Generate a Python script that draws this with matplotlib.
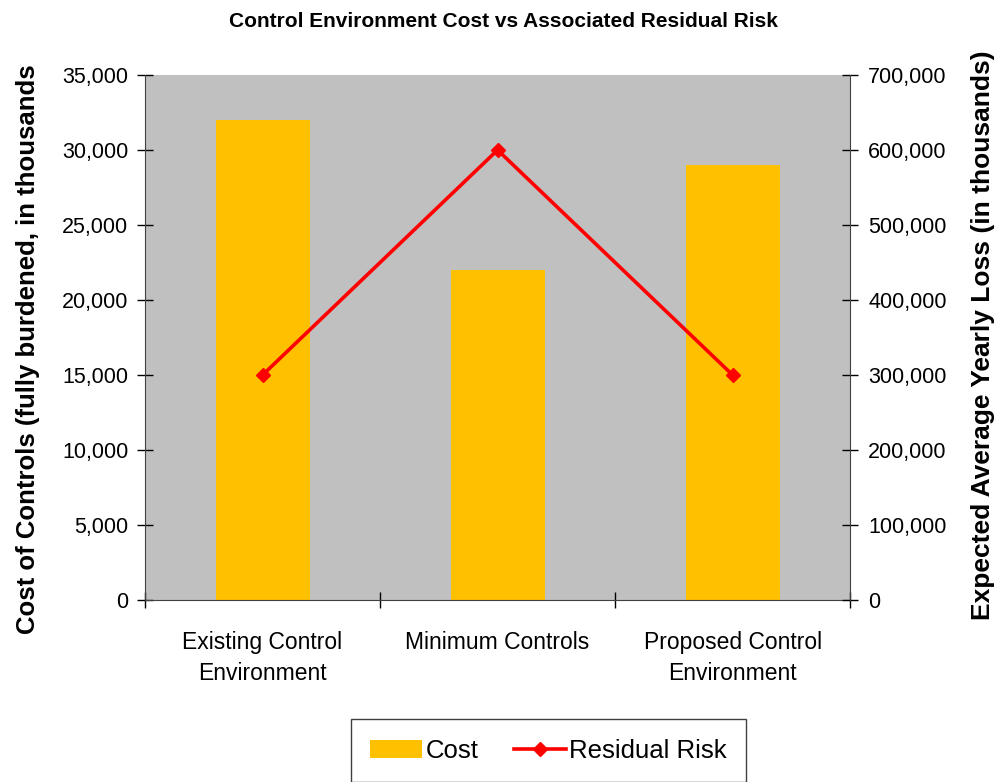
import matplotlib
matplotlib.use("Agg")
import matplotlib.pyplot as plt
from matplotlib.ticker import FuncFormatter, MultipleLocator
import numpy as np

plt.rcParams["font.family"] = ["Liberation Sans", "DejaVu Sans"]

categories = ["Existing Control\nEnvironment", "Minimum Controls", "Proposed Control\nEnvironment"]
cost = [32000, 22000, 29000]
residual_risk = [300000, 600000, 300000]

fig = plt.figure(figsize=(10.03, 7.82), dpi=100)
ax = fig.add_axes([0.1446, 0.2327, 0.703, 0.6714])
ax.set_facecolor("#C0C0C0")

x = np.arange(len(categories))
bars = ax.bar(x, cost, width=0.4, color="#FFC000", label="Cost", zorder=2)

ax.set_xlim(-0.5, 2.5)
ax.set_ylim(0, 35000)
ax.yaxis.set_major_locator(MultipleLocator(5000))
fmt = FuncFormatter(lambda v, p: f"{int(v):,}")
ax.yaxis.set_major_formatter(fmt)

# category labels centred, ticks at the boundaries
ax.set_xticks(x)
ax.set_xticklabels(categories, fontsize=16.5, linespacing=1.45)
ax.tick_params(axis="x", which="major", length=0, pad=22)
ax.set_xticks([-0.5, 0.5, 1.5, 2.5], minor=True)
ax.tick_params(axis="x", which="minor", direction="inout", length=12, width=1)
ax.tick_params(axis="y", direction="inout", length=12, width=1, labelsize=15.5, pad=6)

for s in ["top", "right"]:
    ax.spines[s].set_visible(False)
for s in ["left", "bottom"]:
    ax.spines[s].set_color("#404040")

ax2 = ax.twinx()
ax2.set_ylim(0, 700000)
ax2.yaxis.set_major_locator(MultipleLocator(100000))
ax2.yaxis.set_major_formatter(fmt)
ax2.tick_params(axis="y", direction="inout", length=12, width=1, labelsize=15.5, pad=7)
line, = ax2.plot(x, residual_risk, color="#FF0000", lw=2.6, marker="D", ms=7,
                 label="Residual Risk")
for s in ["top", "left", "bottom"]:
    ax2.spines[s].set_visible(False)
ax2.spines["right"].set_color("#404040")

fig.text(0.028, 0.554, "Cost of Controls (fully burdened, in thousands",
         rotation=90, ha="center", va="center", fontsize=18.5, fontweight="bold")
fig.text(0.980, 0.572, "Expected Average Yearly Loss (in thousands)",
         rotation=90, ha="center", va="center", fontsize=19, fontweight="bold")
fig.text(0.502, 0.973, "Control Environment Cost vs Associated Residual Risk",
         ha="center", va="center", fontsize=15, fontweight="bold")

leg = fig.legend([bars, line], ["Cost", "Residual Risk"], loc="center",
                 bbox_to_anchor=(0.547, 0.040), ncol=2, fontsize=18.5,
                 fancybox=False, framealpha=1, edgecolor="#404040",
                 handlelength=2.0, handletextpad=0.15, columnspacing=1.4,
                 borderpad=0.75, borderaxespad=0)
leg.get_frame().set_linewidth(1)

fig.savefig("out.png", dpi=100)
